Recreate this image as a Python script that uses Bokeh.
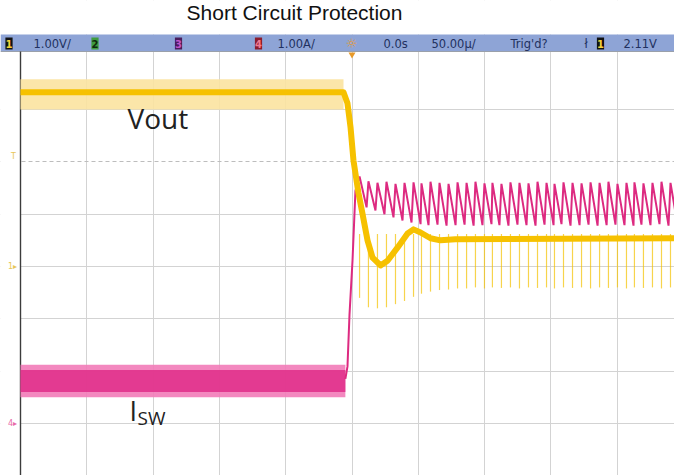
from bokeh.plotting import figure
from bokeh.models import Range1d, Grid, FixedTicker
from bokeh.core.properties import value
from bokeh.embed import file_html
from bokeh.resources import INLINE

# ---------------- data ----------------
title_text = "Short Circuit Protection"

# time in microseconds, 50 us/div, trigger at t = 0
grid_t = [-200, -150, -100, -50, 0, 50, 100, 150, 200]
grid_v = [-3, -2, -1, 0, 1, 3]          # 1 V/div (channel 1 ground at 0)
grid_v_dashed = [2]
trig_level = 2.11
ch1_offset = 0.0
ch4_offset = 0.0

# Vout (channel 1, volts)
vout_t = [-250, -6.4, -3.4, -1.1, 1.1, 2.6, 4.9, 7.9, 11.7, 15.5, 21.5, 26.8,
          34.3, 41.9, 46.4, 51.7, 59.2, 66.7, 78.0, 243.2]
vout_v = [3.33, 3.33, 3.12, 2.66, 2.03, 1.78, 1.40, 1.01, 0.50, 0.17, 0.02, 0.11,
          0.36, 0.63, 0.71, 0.65, 0.54, 0.50, 0.52, 0.54]
ripple_t = [-250, -6.4]
ripple_hi = [3.58, 3.58]
ripple_lo = [3.00, 3.00]

# Isw (channel 4, amps) before the short: dense switching band
isw_pre_t = [-250, -5.0]
isw_outer_hi = [1.12, 1.12]
isw_outer_lo = [0.50, 0.50]
isw_inner_hi = [1.02, 1.02]
isw_inner_lo = [0.60, 0.60]

# Isw rising edge at the short
isw_jump_t = [-5.0, -3.4, -1.9, 0.4, 2.6]
isw_jump_a = [0.85, 1.09, 2.07, 3.12, 4.45]

# Isw sawtooth in current limit: peaks and troughs of each cycle
peak_t = [5.7, 12.4, 19.2, 26.0, 32.8, 39.6, 46.4, 52.4, 59.2, 66.0, 72.8, 79.6,
          86.4, 93.1, 99.9, 105.9, 112.7, 119.5, 126.3, 133.1, 139.9, 146.7, 152.7,
          159.5, 166.3, 173.1, 179.9, 186.7, 193.4, 200.2, 207.0, 213.0, 219.8,
          226.6, 233.4, 240.2]
peak_a = [4.72, 4.63, 4.60, 4.62, 4.58, 4.60, 4.61, 4.59, 4.62, 4.60, 4.58, 4.61,
          4.60, 4.62, 4.59, 4.60, 4.58, 4.61, 4.60, 4.59, 4.62, 4.60, 4.58, 4.61,
          4.60, 4.59, 4.61, 4.60, 4.62, 4.58, 4.60, 4.61, 4.59, 4.60, 4.62, 4.60]
trough_t = [11.0, 17.7, 24.5, 31.3, 38.1, 44.9, 51.7, 57.7, 64.5, 71.3, 78.1, 84.9,
            91.7, 98.4, 105.2, 111.2, 118.0, 124.8, 131.6, 138.4, 145.2, 152.0,
            158.0, 164.8, 171.6, 178.4, 185.2, 192.0, 198.7, 205.5, 212.3, 218.3,
            225.1, 231.9, 238.7, 245.5]
trough_a = [4.13, 4.07, 4.00, 3.94, 3.88, 3.84, 3.81, 3.79, 3.80, 3.78, 3.79, 3.80,
            3.78, 3.79, 3.81, 3.79, 3.78, 3.80, 3.79, 3.78, 3.80, 3.79, 3.81, 3.78,
            3.79, 3.80, 3.78, 3.79, 3.80, 3.79, 3.78, 3.80, 3.79, 3.81, 3.78, 3.79]

# Vout switching spikes after the short (one per cycle)
spike_top = [0.62] * 36
spike_bot = [-0.60, -0.78, -0.80, -0.78, -0.72, -0.66, -0.58, -0.52, -0.48, -0.45,
             -0.44, -0.42, -0.42, -0.40, -0.42, -0.40, -0.41, -0.40, -0.42, -0.40,
             -0.41, -0.40, -0.42, -0.40, -0.41, -0.40, -0.42, -0.40, -0.41, -0.40,
             -0.42, -0.40, -0.41, -0.40, -0.42, -0.40]

# header bar of the scope
hdr_texts = ["1.00V/", "1.00A/", "0.0s", "50.00µ/", "Trig'd?", "ł", "2.11V"]
hdr_px = [33, 277, 383, 431, 510, 584, 623]
badge_labels = ["1", "2", "3", "4", "1"]
badge_px = [8.5, 94.5, 178, 258, 600]
badge_fill = ["#111111", "#3f9c3f", "#4a1d5c", "#8c1c2c", "#111111"]
badge_text = ["#f2d23a", "#0d2a0d", "#c055c8", "#f07a90", "#f2d23a"]

# ---------------- layout mapping (page pixels -> data) ----------------
W, H = 674, 475
X_ZERO, PX_PER_US = 351.5, 1.326
Y_ZERO, PX_PER_V = 266.0, 52.3
CH4_SHIFT = 3.0


def tx(px):
    return (px - X_ZERO) / PX_PER_US


def vy(py):
    return (Y_ZERO - py) / PX_PER_V


FONT = "Liberation Sans"
HFONT = "DejaVu Sans"
LFONT = "Open Sans"

p = figure(width=W, height=H,
           x_range=Range1d(tx(0), tx(W)), y_range=Range1d(vy(H), vy(0)),
           x_axis_type=None, y_axis_type=None,
           output_backend="svg", toolbar_location=None,
           min_border=0, outline_line_color=None,
           background_fill_color="white", border_fill_color="white")
p.extra_y_ranges = {"amps": Range1d(vy(H) + CH4_SHIFT, vy(0) + CH4_SHIFT)}

p.add_layout(Grid(dimension=0, ticker=FixedTicker(ticks=grid_t),
                  grid_line_color="#d3d3d3", grid_line_width=1))
p.add_layout(Grid(dimension=1, ticker=FixedTicker(ticks=grid_v),
                  grid_line_color="#d3d3d3", grid_line_width=1))
p.add_layout(Grid(dimension=1, ticker=FixedTicker(ticks=grid_v_dashed),
                  grid_line_color="#bdbdbd", grid_line_width=1, grid_line_dash="4 3"))

bar_top, bar_bot = vy(34), vy(51)
x_left_edge = tx(20)

# white covers (title area and left strip)
p.quad(left=[tx(0)], right=[tx(W)], bottom=[bar_top], top=[vy(0)],
       fill_color="white", line_color=None)
p.quad(left=[tx(0)], right=[x_left_edge], bottom=[vy(H)], top=[bar_bot],
       fill_color="white", line_color=None)

# header bar
p.quad(left=[tx(0)], right=[tx(W)], bottom=[bar_bot], top=[bar_top],
       fill_color="#8ea4d6", line_color=None)
p.segment(x0=[tx(0)], y0=[bar_bot], x1=[tx(W)], y1=[bar_bot],
          line_color="#9aa0aa", line_width=1)

bw = 3.6 / PX_PER_US
p.quad(left=[tx(c) - bw for c in badge_px], right=[tx(c) + bw for c in badge_px],
       bottom=[vy(49)] * len(badge_px), top=[vy(37)] * len(badge_px),
       fill_color=badge_fill, line_color=None)
p.text(x=[tx(c) for c in badge_px], y=[vy(43)] * len(badge_px), text=badge_labels,
       text_color=badge_text, text_font=value(HFONT), text_font_style="bold",
       text_font_size="10px", text_align="center", text_baseline="middle")
p.text(x=[tx(c) for c in hdr_px], y=[vy(43)] * len(hdr_px), text=hdr_texts,
       text_color="#22315f", text_font=value(HFONT), text_font_size="11.5px",
       text_align="left", text_baseline="middle")
p.text(x=[tx(351)], y=[vy(42.5)], text=["☼"], text_color="#e89a2a",
       text_font=value(HFONT), text_font_size="13px", text_align="center",
       text_baseline="middle")
p.scatter(x=[0], y=[vy(54)], marker="inverted_triangle", size=7,
          fill_color="#e89a2a", line_color=None)

# title
p.text(x=[tx(294)], y=[vy(12)], text=[title_text], text_color="#111111",
       text_font=value(FONT), text_font_size="21px", text_align="center",
       text_baseline="middle")

# left axis line
p.segment(x0=[x_left_edge], y0=[vy(H)], x1=[x_left_edge], y1=[bar_bot],
          line_color="#3c3c3c", line_width=1.4)

# ---------------- traces ----------------
# Isw before the short
p.varea(x=isw_pre_t, y1=isw_outer_lo, y2=isw_outer_hi, y_range_name="amps",
        fill_color="#f27bb8", fill_alpha=0.9)
p.varea(x=isw_pre_t, y1=isw_inner_lo, y2=isw_inner_hi, y_range_name="amps",
        fill_color="#df2d88", fill_alpha=0.85)

# Isw edge + sawtooth
saw_t = list(isw_jump_t)
saw_a = list(isw_jump_a)
for pt, pa, tt, ta in zip(peak_t, peak_a, trough_t, trough_a):
    saw_t += [pt, tt]
    saw_a += [pa, ta]
p.line(saw_t, saw_a, y_range_name="amps", line_color="#dd2a80", line_width=2)

# Vout ripple band, spikes, main trace
p.varea(x=ripple_t, y1=ripple_lo, y2=ripple_hi, fill_color="#fbe3a0", fill_alpha=0.9)
p.segment(x0=peak_t, y0=spike_top, x1=peak_t, y1=spike_bot,
          line_color="#f3c200", line_alpha=0.7, line_width=1.2)
p.line(vout_t, vout_v, line_color="#f6c100", line_width=6, line_join="round")

# channel markers on the left
p.text(x=[tx(12)], y=[ch1_offset], text=["1▸"], text_color="#e8c65a",
       text_font=value(HFONT), text_font_size="8px", text_align="center",
       text_baseline="middle")
p.text(x=[tx(13)], y=[trig_level], text=["T"], text_color="#e8c65a",
       text_font=value(HFONT), text_font_size="8px", text_align="center",
       text_baseline="middle")
p.text(x=[tx(12)], y=[ch4_offset], y_range_name="amps", text=["4▸"],
       text_color="#e86aa8", text_font=value(HFONT), text_font_size="8px",
       text_align="center", text_baseline="middle")

# trace labels
p.text(x=[tx(127)], y=[vy(117)], text=["Vout"], text_color="#222222",
       text_font=value(LFONT), text_font_size="28px", text_align="left",
       text_baseline="middle")
p.text(x=[tx(129)], y=[vy(410)], text=["I"], text_color="#222222",
       text_font=value(LFONT), text_font_size="27px", text_align="left",
       text_baseline="middle")
p.text(x=[tx(137)], y=[vy(417)], text=["SW"], text_color="#222222",
       text_font=value(LFONT), text_font_size="19px", text_align="left",
       text_baseline="middle")

open("out.html", "w").write(file_html(p, INLINE))
